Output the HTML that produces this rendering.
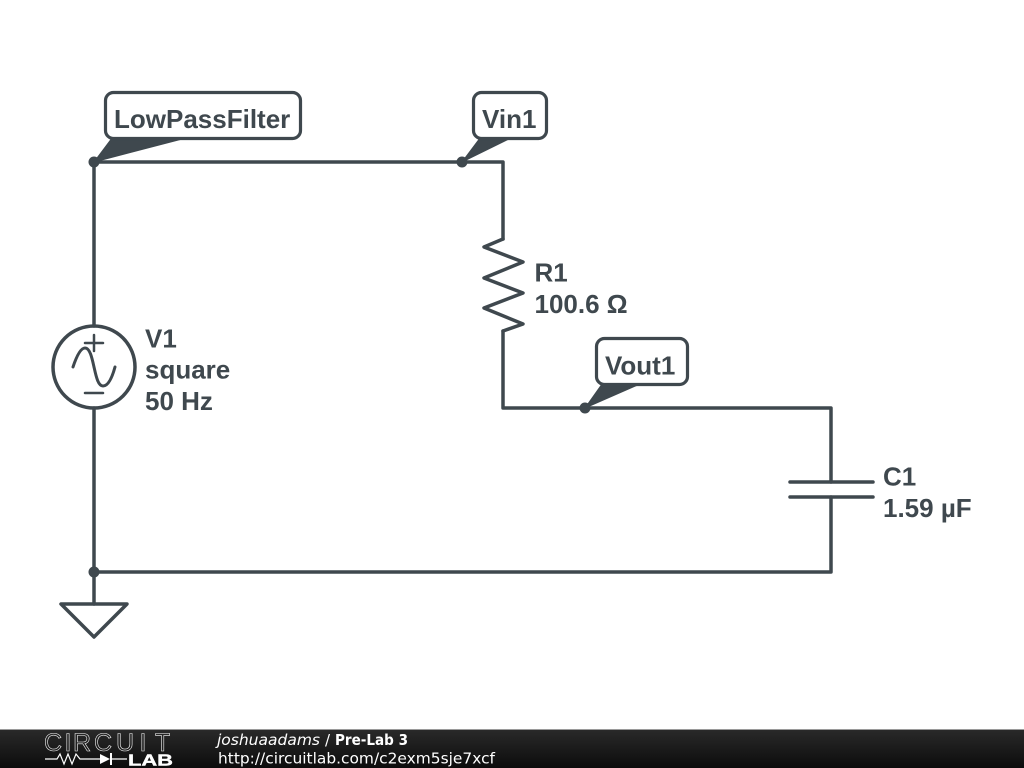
<!DOCTYPE html>
<html lang="en">
<head>
<meta charset="utf-8">
<title>Pre-Lab 3</title>
<style>
html,body{margin:0;padding:0;background:#fff;width:1024px;height:768px;overflow:hidden}
svg{display:block}
.t{font-family:"Liberation Sans",sans-serif;font-weight:bold;font-size:26px;fill:#3f484e}
.f{font-family:"DejaVu Sans",sans-serif;font-size:15px;fill:#fff}
</style>
</head>
<body>
<svg width="1024" height="768" viewBox="0 0 1024 768" xmlns="http://www.w3.org/2000/svg">
<defs>
<linearGradient id="bar" x1="0" y1="0" x2="0" y2="1">
<stop offset="0" stop-color="#2a2a2a"/><stop offset="1" stop-color="#0c0c0c"/>
</linearGradient>
</defs>
<rect width="1024" height="768" fill="#fff"/>
<g fill="none" stroke="#3f484e" stroke-width="3.500" stroke-linecap="round" stroke-linejoin="round">
  <!-- wires -->
  <path d="M94 162H503V239M503 331V408H831V482M831 497V572H94V604M94 162V326M94 408V572"/>
  <!-- resistor -->
  <path d="M503 239L484 247L523 262L484 278L523 293L484 308L523 324L503 331"/>
  <!-- source -->
  <circle cx="94" cy="367" r="41"/>
  <path d="M85 343H103M94 335V351M85 393H103" stroke-width="2.500"/>
  <path d="M73 367C77 355 81 348 85 348C90 348 92 358 94 367C96 376 98 386 103 386C108 386 112 378 115 367" stroke-width="3"/>
  <!-- capacitor -->
  <path d="M790 482H873M790 497H873"/>
  <!-- ground -->
  <path d="M61 604H127L94 637Z"/>
</g>
<!-- junctions -->
<g fill="#3f484e" stroke="#3f484e" stroke-width="1" stroke-linejoin="round">
  <circle cx="94" cy="162" r="5.500" stroke="none"/>
  <circle cx="462" cy="162" r="5.500" stroke="none"/>
  <circle cx="585" cy="408" r="5.500" stroke="none"/>
  <circle cx="94" cy="572" r="5.500" stroke="none"/>
  <!-- callout tails -->
  <path d="M94 162L112 138H186Z"/>
  <path d="M462 162L480 138H511Z"/>
  <path d="M585 408L602 384H640Z"/>
</g>
<!-- callouts -->
<g fill="#fff" stroke="#3f484e" stroke-width="3.200">
  <rect x="105.500" y="92.500" width="195" height="46" rx="8"/>
  <rect x="473.500" y="92.500" width="73" height="46" rx="8"/>
  <rect x="596.500" y="338.500" width="91" height="46" rx="8"/>
</g>
<text class="t" x="114" y="128">LowPassFilter</text>
<text class="t" x="482" y="128">Vin1</text>
<text class="t" x="605" y="374.500">Vout1</text>
<text class="t" x="534.500" y="281.500">R1</text>
<text class="t" x="534.500" y="313">100.6 Ω</text>
<text class="t" x="145" y="347.500">V1</text>
<text class="t" x="145" y="378.500">square</text>
<text class="t" x="145" y="410">50 Hz</text>
<text class="t" x="883" y="485.500">C1</text>
<text class="t" x="883" y="517">1.59 µF</text>
<!-- footer -->
<rect x="0" y="729" width="1024" height="39" fill="url(#bar)"/>
<rect x="0" y="729" width="1024" height="1" fill="#9a9a9a"/>
<text x="44 64.500 73 94 116 139.500 155" y="751" font-family="'Liberation Sans',sans-serif" font-size="25" fill="none" stroke="#f0f0f0" stroke-width="0.600">CIRCUIT</text>
<path d="M45 759H57L60 754L64 764L68 754L72 764L76 754L80 759H100M111 759H127" fill="none" stroke="#fff" stroke-width="1.200"/>
<path d="M100 754L110 759L100 764Z" fill="#fff"/>
<path d="M111 753V765" stroke="#fff" stroke-width="2"/>
<text x="128" y="765.500" font-family="'Liberation Sans',sans-serif" font-weight="bold" font-size="16" fill="#fff" stroke="#fff" stroke-width="0.400" textLength="45" lengthAdjust="spacingAndGlyphs">LAB</text>
<text class="f" x="217" y="745" font-style="italic" textLength="103" lengthAdjust="spacingAndGlyphs">joshuaadams</text>
<text class="f" x="325" y="745">/</text>
<text class="f" x="335" y="745" font-weight="bold" textLength="73" lengthAdjust="spacingAndGlyphs">Pre-Lab 3</text>
<text class="f" x="218" y="763.500" textLength="277" lengthAdjust="spacingAndGlyphs">http://circuitlab.com/c2exm5sje7xcf</text>
</svg>
</body>
</html>
